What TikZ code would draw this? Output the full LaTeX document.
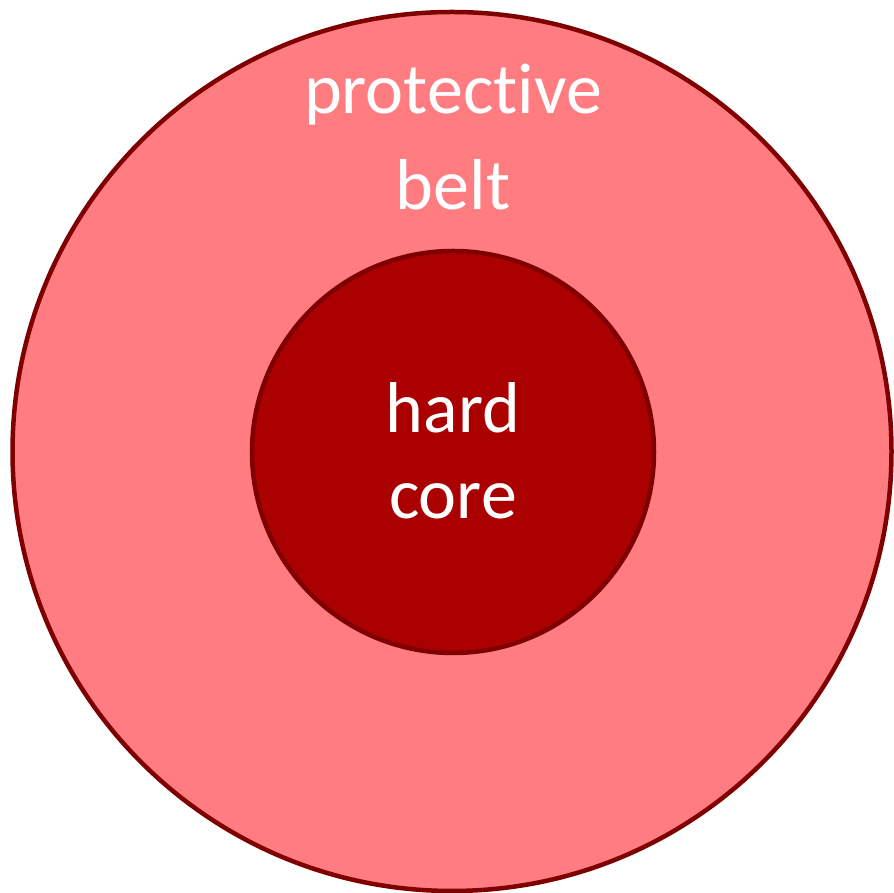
\documentclass[tikz,border=0pt]{standalone}
\usepackage{fontspec}
\setmainfont[RawFeature={-liga;-clig;-dlig;-calt}]{Carlito}
\usetikzlibrary{positioning}
\definecolor{beltred}{HTML}{FF7C80}
\definecolor{corered}{HTML}{AA0000}
\definecolor{edgered}{HTML}{7F0000}

\begin{document}
\begin{tikzpicture}[x=1pt,y=1pt,ring/.style={circle,draw=edgered,line width=4.5pt,inner sep=0pt},txt/.style={text=white,align=center,font=\fontsize{72}{86}\selectfont}]
\useasboundingbox (0,0) rectangle (894,893);
\node[ring,fill=beltred,minimum size=879] (belt) at (452,441.5) {};
\node[ring,fill=corered,minimum size=402] (core) at (453,441) {};
\node[txt,font=\fontsize{72}{96}\selectfont] (b) at (453,756) {protective\\belt};
\node[txt] (c) at (453,442) {hard\\core};
\end{tikzpicture}
\end{document}
